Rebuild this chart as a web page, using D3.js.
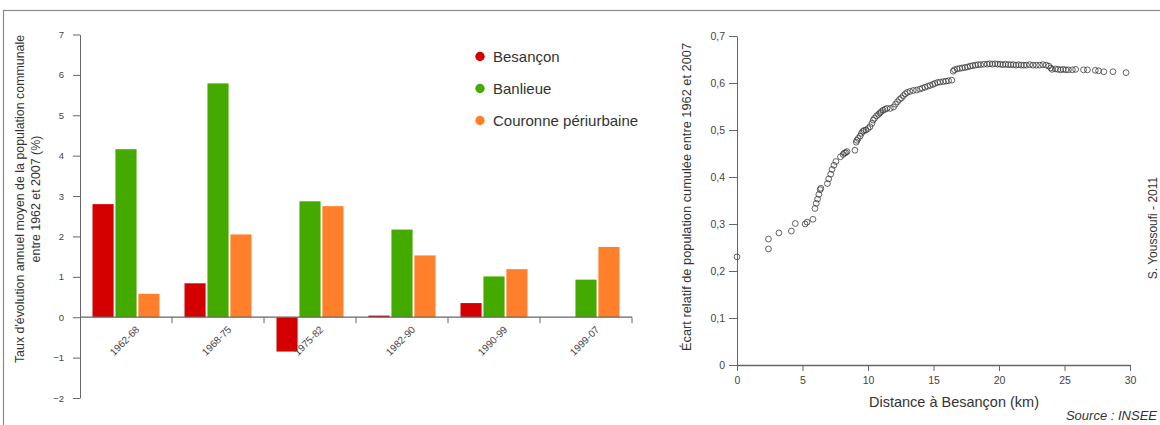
<!DOCTYPE html>
<html><head><meta charset="utf-8">
<script src="https://cdn.jsdelivr.net/npm/d3@7"></script>
<style>
html,body{margin:0;padding:0;background:#fff;}
text{font-family:"Liberation Sans",Arial,sans-serif;}
</style></head>
<body><svg id="c" width="1160" height="425"></svg>
<script>
// ---------- data ----------
const periods = ["1962-68","1968-75","1975-82","1982-90","1990-99","1999-07"];
const seriesNames = ["Besançon","Banlieue","Couronne périurbaine"];
const besancon = [2.80, 0.84, -0.85, 0.04, 0.35, null];
const banlieue = [4.16, 5.79, 2.87, 2.17, 1.01, 0.93];
const couronne = [0.58, 2.05, 2.75, 1.53, 1.19, 1.74];
const seriesColors = ["#d40000","#44aa00","#ff7f2a"];
const barTicks = [-2,-1,0,1,2,3,4,5,6,7];

const distanceKm = [0,2.4,2.4,3.2,4.15,4.45,5.2,5.35,5.8,5.95,6.05,6.15,6.25,6.35,6.4,6.9,7.0,7.15,7.25,7.4,7.55,7.9,8.1,8.2,8.3,8.4,9.0,9.1,9.15,9.25,9.4,9.5,9.6,9.7,9.85,10.0,10.15,10.3,10.4,10.5,10.65,10.8,10.9,11.0,11.15,11.3,11.45,11.7,11.95,12.1,12.25,12.4,12.55,12.7,12.85,13.0,13.2,13.45,13.7,13.95,14.15,14.35,14.55,14.75,14.95,15.1,15.3,15.5,15.75,15.95,16.15,16.4,16.5,16.6,16.8,17.0,17.2,17.4,17.6,17.8,18.0,18.2,18.4,18.6,18.85,19.1,19.3,19.5,19.7,19.9,20.1,20.3,20.5,20.7,20.9,21.1,21.3,21.5,21.7,21.9,22.1,22.35,22.6,22.85,23.1,23.35,23.6,23.8,23.95,24.05,24.3,24.5,24.7,24.9,25.1,25.3,25.6,25.85,26.45,26.75,27.35,27.6,28.0,28.7,29.7];
const ecartCumule = [0.230,0.247,0.268,0.281,0.285,0.301,0.300,0.304,0.310,0.333,0.344,0.353,0.363,0.373,0.376,0.386,0.396,0.406,0.416,0.425,0.433,0.443,0.448,0.451,0.452,0.454,0.457,0.474,0.478,0.482,0.487,0.493,0.497,0.499,0.500,0.503,0.507,0.514,0.521,0.525,0.530,0.533,0.536,0.539,0.542,0.544,0.546,0.546,0.549,0.555,0.560,0.565,0.568,0.573,0.577,0.580,0.582,0.584,0.585,0.587,0.589,0.591,0.593,0.595,0.597,0.599,0.601,0.602,0.603,0.604,0.605,0.606,0.625,0.628,0.630,0.631,0.632,0.633,0.634,0.636,0.637,0.638,0.639,0.639,0.640,0.640,0.641,0.640,0.641,0.640,0.640,0.639,0.640,0.639,0.639,0.639,0.638,0.639,0.638,0.638,0.638,0.639,0.638,0.638,0.638,0.639,0.638,0.636,0.632,0.629,0.630,0.629,0.628,0.629,0.628,0.628,0.628,0.629,0.628,0.628,0.627,0.626,0.624,0.624,0.622];
const scatterXTicks = [0,5,10,15,20,25,30];
const scatterYTicks = [0,0.1,0.2,0.3,0.4,0.5,0.6,0.7];

// ---------- drawing ----------
const svg = d3.select("#c");
const axisCol = "#666", txtCol = "#444";

// frame
svg.append("rect").attr("x",3.5).attr("y",10.5).attr("width",1170).attr("height",430)
  .attr("fill","none").attr("stroke","#8a8a8a").attr("stroke-width",1.2);

// ===== left bar chart =====
const x0 = d3.scaleBand().domain(periods).range([80,632]).padding(0);
const x1 = d3.scaleBand().domain(seriesNames).range([12.5, x0.bandwidth()-12.5]).paddingInner(0.08);
const yL = d3.scaleLinear().domain([-2,7]).range([398,34.5]);
const color = d3.scaleOrdinal().domain(seriesNames).range(seriesColors);
const seriesVals = [besancon, banlieue, couronne];

const gBars = svg.append("g");
periods.forEach((p,i)=>{
  seriesNames.forEach((s,j)=>{
    const v = seriesVals[j][i];
    if(v===null) return;
    gBars.append("rect")
      .attr("x", x0(p)+x1(s))
      .attr("width", x1.bandwidth())
      .attr("y", yL(Math.max(0,v)))
      .attr("height", Math.abs(yL(v)-yL(0)))
      .attr("fill", color(s));
  });
});

// y axis left
const gyL = svg.append("g").attr("transform","translate(80,0)")
  .call(d3.axisLeft(yL).tickValues(barTicks).tickSize(7).tickPadding(9).tickSizeOuter(0).tickFormat(d3.format("d")));
gyL.select(".domain").attr("stroke",axisCol);
gyL.selectAll(".tick line").attr("stroke",axisCol);
gyL.selectAll(".tick text").attr("fill",txtCol).style("font-size","9.5px");

// x axis (zero line) with boundary ticks
svg.append("line").attr("x1",80).attr("x2",632).attr("y1",yL(0)).attr("y2",yL(0)).attr("stroke",axisCol).attr("stroke-width",1.2);
const bounds = periods.map(p=>x0(p)+x0.bandwidth());
svg.append("g").selectAll("line").data(bounds).join("line")
  .attr("x1",d=>d).attr("x2",d=>d).attr("y1",yL(0)).attr("y2",yL(0)+6).attr("stroke",axisCol);
svg.append("g").selectAll("text").data(periods).join("text")
  .attr("transform",d=>`translate(${x0(d)+x0.bandwidth()/2+14},${yL(0)+13}) rotate(-45)`)
  .attr("text-anchor","end").attr("fill",txtCol).style("font-size","10px").text(d=>d);

// left titles
svg.append("text").attr("transform","translate(23.5,199) rotate(-90)").attr("text-anchor","middle")
  .attr("fill","#333").style("font-size","12.4px").text("Taux d'évolution annuel moyen de la population communale");
svg.append("text").attr("transform","translate(39.5,199) rotate(-90)").attr("text-anchor","middle")
  .attr("fill","#333").style("font-size","12.4px").text("entre 1962 et 2007 (%)");

// legend
const leg = svg.append("g");
seriesNames.forEach((s,i)=>{
  const cy = 56.5 + i*32;
  leg.append("circle").attr("cx",480).attr("cy",cy).attr("r",4.7).attr("fill",color(s));
  leg.append("text").attr("x",493).attr("y",cy+5.2).attr("fill","#333").style("font-size","15px").text(s);
});

// ===== right scatter =====
const xR = d3.scaleLinear().domain([0,30]).range([737,1130]);
const yR = d3.scaleLinear().domain([0,0.7]).range([365,36]);
const fmt = d=> d===0 ? "0" : d3.format(".1f")(d).replace(".",",");

const gyR = svg.append("g").attr("transform","translate(737,0)")
  .call(d3.axisLeft(yR).tickValues(scatterYTicks).tickSize(8).tickPadding(4).tickSizeOuter(0).tickFormat(fmt));
gyR.select(".domain").attr("stroke",axisCol);
gyR.selectAll(".tick line").attr("stroke",axisCol);
gyR.selectAll(".tick text").attr("fill",txtCol).style("font-size","10.5px");

const gxR = svg.append("g").attr("transform","translate(0,365)")
  .call(d3.axisBottom(xR).tickValues(scatterXTicks).tickSize(6).tickPadding(6).tickSizeOuter(0).tickFormat(d3.format("d")));
gxR.select(".domain").attr("stroke",axisCol).attr("stroke-width",1.3);
gxR.selectAll(".tick line").attr("stroke",axisCol);
gxR.selectAll(".tick text").attr("fill",txtCol).style("font-size","10.5px");

svg.append("g").selectAll("circle").data(distanceKm.map((d,i)=>[d,ecartCumule[i]])).join("circle")
  .attr("cx",d=>xR(d[0])).attr("cy",d=>yR(d[1])).attr("r",2.9)
  .attr("fill","none").attr("stroke","#333").attr("stroke-width",0.9).attr("stroke-opacity",0.85);

svg.append("text").attr("x",954).attr("y",407).attr("text-anchor","middle")
  .attr("fill","#333").style("font-size","14.5px").text("Distance à Besançon (km)");
svg.append("text").attr("transform","translate(691,197) rotate(-90)").attr("text-anchor","middle")
  .attr("fill","#333").style("font-size","12.8px").text("Écart relatif de population cumulée entre 1962 et 2007");
svg.append("text").attr("transform","translate(1157,228) rotate(-90)").attr("text-anchor","middle")
  .attr("fill","#333").style("font-size","12px").text("S. Youssoufi - 2011");
svg.append("text").attr("x",1157).attr("y",420).attr("text-anchor","end")
  .attr("fill","#333").style("font-size","13px").style("font-style","italic").text("Source : INSEE");
</script></body></html>
